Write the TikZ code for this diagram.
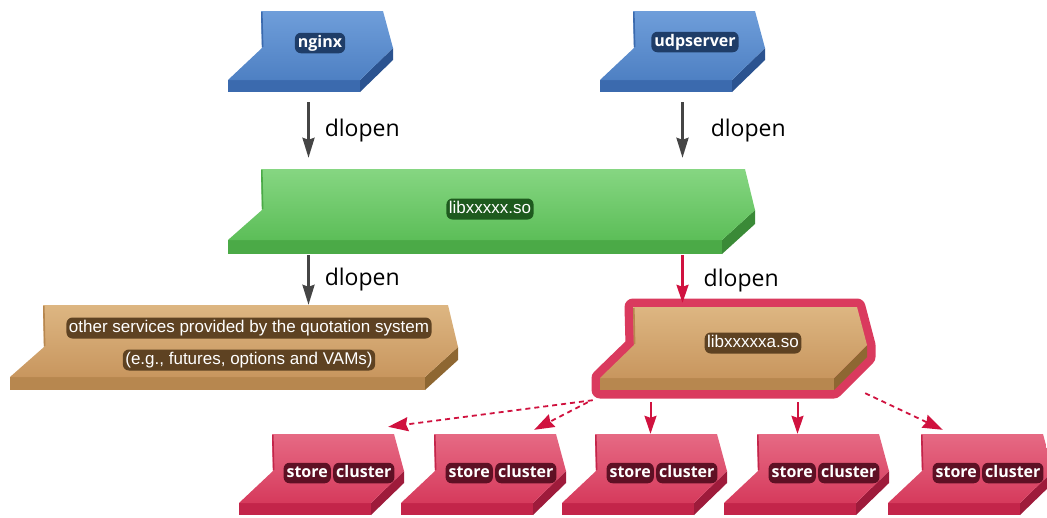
\documentclass[tikz,border=0pt]{standalone}
\usepackage{fontspec}
\setmainfont{Open Sans}
\newfontfamily\arialf{Liberation Sans}
\usetikzlibrary{arrows.meta,fit,calc}

\definecolor{bluetopA}{HTML}{6F9EDA}
\definecolor{bluetopB}{HTML}{4E80C3}
\definecolor{bluefront}{HTML}{3B6AAE}
\definecolor{blueside}{HTML}{2B5390}
\definecolor{bluehalo}{HTML}{1F3D68}
\definecolor{greentopA}{HTML}{86D682}
\definecolor{greentopB}{HTML}{5CBE58}
\definecolor{greenfront}{HTML}{4BAA47}
\definecolor{greenside}{HTML}{3A8A37}
\definecolor{greenhalo}{HTML}{1E5A1E}
\definecolor{browntopA}{HTML}{DDB682}
\definecolor{browntopB}{HTML}{C8965E}
\definecolor{brownfront}{HTML}{B7874F}
\definecolor{brownside}{HTML}{8E6732}
\definecolor{brownhalo}{HTML}{5E4222}
\definecolor{redtopA}{HTML}{E66A84}
\definecolor{redtopB}{HTML}{D63A5C}
\definecolor{redfront}{HTML}{C3254A}
\definecolor{redside}{HTML}{9E1B3B}
\definecolor{redhalo}{HTML}{5E1024}
\definecolor{hlred}{HTML}{DA3A5E}
\definecolor{arrowgray}{HTML}{454545}
\definecolor{crimson}{HTML}{D0123F}

\tikzset{
  garrow/.style={draw=arrowgray, line width=2.6pt, -{Stealth[length=20pt,width=12pt,inset=2pt]}},
  rarrow/.style={draw=crimson, line width=2.4pt, -{Stealth[length=18pt,width=12pt,inset=2pt]}},
  rdash/.style={draw=crimson, line width=1.8pt, dash pattern=on 5pt off 4pt, -{Stealth[length=20pt,width=14pt,inset=2pt]}},
  dlbl/.style={font=\fontsize{23}{23}\selectfont, text=black, inner sep=0pt, anchor=west},
  halo/.style={fill=#1, text=white, rounded corners=6pt, inner xsep=3pt, inner ysep=2.5pt,
     font=\bfseries\fontsize{16}{20}\selectfont, text height=12pt, text depth=3.5pt},
  ahalo/.style={halo=#1, font=\arialf\fontsize{17}{20}\selectfont, text height=12.5pt, text depth=3.5pt, inner xsep=2.5pt},
}

% #1 name, #2 a, #3 t, #4 w, #5 r, #6 h, #7 d, #8 palette
\newcommand\slab[8]{%
  \fill[#8front] ({#2-33},{#3+#6}) -- ({#2+#4-23},{#3+#6}) -- ({#2+#4-23},{#3+#6+#7}) -- ({#2-33},{#3+#6+#7}) -- cycle;
  \fill[#8side] ({#2+#4-23},{#3+#6}) -- ({#2+#4+10},{#3+#5}) -- ({#2+#4+10},{#3+#5+#7}) -- ({#2+#4-23},{#3+#6+#7}) -- cycle;
  \shade[top color=#8topA, bottom color=#8topB] (#2,#3) -- ({#2+#4},#3) -- ({#2+#4+10},{#3+#5}) -- ({#2+#4-23},{#3+#6}) -- ({#2-33},{#3+#6}) -- ({#2+1},{#3+#5}) -- cycle;
  \draw[#8front, line width=1.6pt] ({#2+0.8},{#3+1}) -- ({#2+1.6},{#3+#5-1});
  \node[fit={({#2-33},#3) ({#2+#4+10},{#3+#6+#7})}, inner sep=0pt] (#1) {};
}
% store cluster label: #1 name, #2 x centre, #3 y
\newcommand\storelabel[3]{%
  \node[halo=redhalo, anchor=east] (#1a) at ({#2-6},#3) {store};
  \node[halo=redhalo, anchor=west] (#1b) at ($(#1a.east)+(2,0)$) {cluster};
}

\begin{document}
\begin{tikzpicture}[x=1pt,y=-1pt]
\useasboundingbox (0,0) rectangle (1047,517);
\begin{scope}
\clip (0,0) rectangle (1047,517);

% top row
\slab{nginx}{261}{11}{122}{37}{69}{12}{blue}
\node[halo=bluehalo] (nginxt) at (320,43) {nginx};
\slab{udp}{633}{11}{122}{37}{69}{12}{blue}
\node[halo=bluehalo] (udpt) at (695,42) {udpserver};

% green library
\slab{green}{261}{169}{484}{41}{71}{14}{green}
\node[ahalo=greenhalo] (greent) at (490,209) {libxxxxx.so};

% other services
\slab{other}{43}{305}{405}{42}{72}{13}{brown}
\node[ahalo=brownhalo] (other1) at (249,328) {other services provided by the quotation system};
\node[ahalo=brownhalo] (other2) at (249,360) {(e.g., futures, options and VAMs)};

% highlighted library
\draw[hlred, line width=17pt, line join=round]
  (633,307) -- (857,307) -- (867,345) -- (867,357) -- (834,390) -- (600,390) -- (600,378) -- (634,345) -- cycle;
\slab{lib}{633}{307}{224}{38}{71}{12}{brown}
\node[ahalo=brownhalo] (libt) at (753,343) {libxxxxxa.so};

% store clusters
\slab{c1}{272}{434}{122}{37}{69}{12}{red}
\storelabel{c1t}{337}{473}
\slab{c2}{434}{434}{122}{37}{69}{12}{red}
\storelabel{c2t}{499}{473}
\slab{c3}{595}{434}{122}{37}{69}{12}{red}
\storelabel{c3t}{660}{473}
\slab{c4}{757}{434}{122}{37}{69}{12}{red}
\storelabel{c4t}{822}{473}
\slab{c5}{921}{434}{122}{37}{69}{12}{red}
\storelabel{c5t}{986}{473}
\end{scope}

% connectors
\draw[garrow, shorten <=10pt, shorten >=11pt] ($(nginx.south)+(-2,0)$) -- node[dlbl, xshift=15pt] (d1) {dlopen} ($(nginx.south |- green.north)+(-2,0)$);
\draw[garrow, shorten <=10pt, shorten >=11pt] (udp.south) -- node[dlbl, xshift=27pt] (d2) {dlopen} (udp.south |- green.north);
\draw[garrow, shorten <=1pt] ($(nginx.south |- green.south)+(-2,0)$) -- node[dlbl, xshift=15pt] (d3) {dlopen} ($(nginx.south |- other.north)+(-2,0)$);
\draw[rarrow, shorten <=1pt, shorten >=4pt] (udp.south |- green.south) -- node[dlbl, xshift=20pt] (d4) {dlopen} (udp.south |- lib.north);

\coordinate (s3) at ($(lib.south)+(-83,12)$);
\coordinate (s4) at ($(lib.south)+(64,12)$);
\draw[rdash] ($(lib.south west)+(-7,10)$) -- ($(c1.north east)+(-16,-7)$);
\draw[rdash] ($(lib.south west)+(-12,12)$) -- ($(c2.north east)+(-32,-4)$);
\draw[rarrow, line width=2pt] (s3) -- (s3 |- c3.north);
\draw[rarrow, line width=2pt] (s4) -- (s4 |- c4.north);
\draw[rdash] ($(lib.south east)+(-2,3)$) -- ($(c5.north west)+(55,-4)$);
\end{tikzpicture}
\end{document}
